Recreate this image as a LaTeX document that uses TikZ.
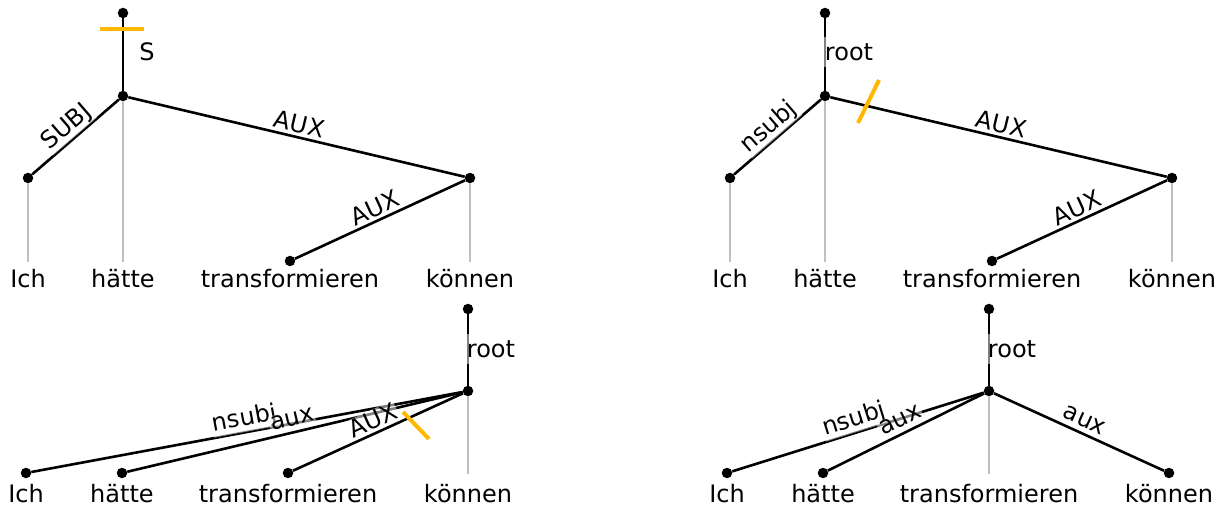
\documentclass[tikz,border=0pt]{standalone}
\usepackage{fontspec}
\setmainfont{DejaVu Sans}
\usetikzlibrary{calc}
\definecolor{projgray}{RGB}{192,192,192}
\definecolor{markorange}{RGB}{255,184,0}
\begin{document}
\begin{tikzpicture}[x=1pt,y=-1pt,
  dot/.style={circle,fill=black,inner sep=0pt,minimum size=10.5pt},
  edge/.style={draw=black,line width=2.6pt},
  proj/.style={draw=projgray,line width=2.6pt},
  word/.style={anchor=base,font=\fontsize{24}{28}\selectfont,inner sep=0pt},
  lbl/.style={fill=white,fill opacity=0.5,text opacity=1,inner sep=1pt,font=\fontsize{24}{28}\selectfont},
  rootlbl/.style={lbl,inner xsep=3pt,inner ysep=6pt},
  cut/.style={draw=markorange,line width=4pt}]
\useasboundingbox (0,0) rectangle (1225,510);

% ---------- top left ----------
\node[dot] (a0) at (123,13) {};
\node[dot] (a2) at (123,96) {};
\node[dot] (a1) at (28,178) {};
\node[dot] (a4) at (470,178) {};
\node[dot] (a3) at (290,261) {};
\coordinate (ga1) at (28,262);
\coordinate (ga2) at (123,262);
\coordinate (ga4) at (470,262);
\draw[proj] (a1) -- (ga1);
\draw[proj] (a2) -- (ga2);
\draw[proj] (a4) -- (ga4);
\draw[edge] (a2) -- (a0);
\draw[edge] (a2) -- (a1);
\draw[edge] (a2) -- (a4);
\draw[edge] (a4) -- (a3);
\coordinate (oa1) at (100,29);
\coordinate (oa2) at (144,29);
\draw[cut] (oa1) -- (oa2);
\node[word] (wa1) at (28,288) {Ich};
\node[word] (wa2) at (123,288) {hätte};
\node[word] (wa3) at (290,288) {transformieren};
\node[word] (wa4) at (470,288) {können};
\node[lbl] (la0) at (147,52) {S};
\node[lbl,rotate=40.8] (la1) at ($(a1)!0.5!(a2)!13pt!90:(a2)$) {SUBJ};
\node[lbl,rotate=-13.3] (la2) at ($(a2)!0.5!(a4)!13pt!90:(a4)$) {AUX};
\node[lbl,rotate=24.8] (la3) at ($(a3)!0.5!(a4)!13pt!90:(a4)$) {AUX};

% ---------- top right ----------
\node[dot] (b0) at (825,13) {};
\node[dot] (b2) at (825,96) {};
\node[dot] (b1) at (730,178) {};
\node[dot] (b4) at (1172,178) {};
\node[dot] (b3) at (992,261) {};
\coordinate (gb1) at (730,262);
\coordinate (gb2) at (825,262);
\coordinate (gb4) at (1172,262);
\draw[proj] (b1) -- (gb1);
\draw[proj] (b2) -- (gb2);
\draw[proj] (b4) -- (gb4);
\draw[edge] (b2) -- (b0);
\draw[edge] (b2) -- (b1);
\draw[edge] (b2) -- (b4);
\draw[edge] (b4) -- (b3);
\coordinate (ob1) at (858,123);
\coordinate (ob2) at (879,80);
\draw[cut] (ob1) -- (ob2);
\node[word] (wb1) at (730,288) {Ich};
\node[word] (wb2) at (825,288) {hätte};
\node[word] (wb3) at (992,288) {transformieren};
\node[word] (wb4) at (1172,288) {können};
\node[rootlbl] (lb0) at (849,52) {root};
\node[lbl,rotate=40.8] (lb1) at ($(b1)!0.5!(b2)!13pt!90:(b2)$) {nsubj};
\node[lbl,rotate=-13.3] (lb2) at ($(b2)!0.5!(b4)!13pt!90:(b4)$) {AUX};
\node[lbl,rotate=24.8] (lb3) at ($(b3)!0.5!(b4)!13pt!90:(b4)$) {AUX};

% ---------- bottom left ----------
\node[dot] (c0) at (468,309) {};
\node[dot] (c4) at (468,391) {};
\node[dot] (c1) at (26,473) {};
\node[dot] (c2) at (122,473) {};
\node[dot] (c3) at (288,473) {};
\coordinate (gc4) at (468,474);
\draw[proj] (c4) -- (gc4);
\draw[edge] (c4) -- (c0);
\draw[edge] (c4) -- (c1);
\draw[edge] (c4) -- (c2);
\draw[edge] (c4) -- (c3);
\coordinate (oc1) at (403,412);
\coordinate (oc2) at (429,439);
\draw[cut] (oc1) -- (oc2);
\node[word] (wc1) at (26,502) {Ich};
\node[word] (wc2) at (122,502) {hätte};
\node[word] (wc3) at (288,502) {transformieren};
\node[word] (wc4) at (468,502) {können};
\node[rootlbl] (lc0) at (491,349) {root};
\node[lbl,rotate=10.5] (lc1) at ($(c1)!0.5!(c4)!13pt!90:(c4)$) {nsubj};
\node[lbl,rotate=13.3] (lc2) at ($(c2)!0.5!(c4)!13pt!90:(c4)$) {aux};
\node[lbl,rotate=24.5] (lc3) at ($(c3)!0.5!(c4)!13pt!90:(c4)$) {AUX};

% ---------- bottom right ----------
\node[dot] (d0) at (989,309) {};
\node[dot] (d3) at (989,391) {};
\node[dot] (d1) at (727,473) {};
\node[dot] (d2) at (823,473) {};
\node[dot] (d4) at (1169,473) {};
\coordinate (gd3) at (989,474);
\draw[proj] (d3) -- (gd3);
\draw[edge] (d3) -- (d0);
\draw[edge] (d3) -- (d1);
\draw[edge] (d3) -- (d2);
\draw[edge] (d3) -- (d4);
\node[word] (wd1) at (727,502) {Ich};
\node[word] (wd2) at (823,502) {hätte};
\node[word] (wd3) at (989,502) {transformieren};
\node[word] (wd4) at (1169,502) {können};
\node[rootlbl] (ld0) at (1012,349) {root};
\node[lbl,rotate=17.4] (ld1) at ($(d1)!0.5!(d3)!13pt!90:(d3)$) {nsubj};
\node[lbl,rotate=26.3] (ld2) at ($(d2)!0.5!(d3)!13pt!90:(d3)$) {aux};
\node[lbl,rotate=-24.5] (ld3) at ($(d3)!0.5!(d4)!13pt!90:(d4)$) {aux};
\end{tikzpicture}
\end{document}
